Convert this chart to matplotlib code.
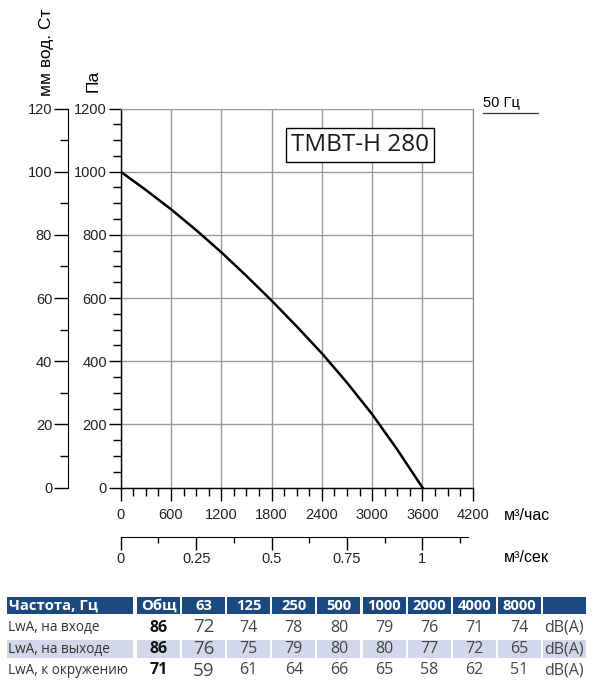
import numpy as np
import matplotlib
matplotlib.use("Agg")
import matplotlib.pyplot as plt
from matplotlib.ticker import MultipleLocator
from matplotlib.patches import Rectangle

# Fan curve
flow_m3h = [0, 300, 600, 900, 1200, 1500, 1800, 2100, 2400, 2700, 3000, 3300, 3600]
pressure_pa = [1000, 942, 881, 815, 745, 670, 592, 510, 425, 332, 232, 120, 0]

model_name = "TMBT-H 280"
freq_label = "50 Гц"

# Sound power table
table_header = ["Частота, Гц", "Общ", "63", "125", "250", "500",
                "1000", "2000", "4000", "8000", ""]
row_labels = ["LwA, на входе", "LwA, на выходе", "LwA, к окружению"]
total_lwa = [86, 86, 71]
lwa_inlet = [72, 74, 78, 80, 79, 76, 71, 74]
lwa_outlet = [76, 75, 79, 80, 80, 77, 72, 65]
lwa_surround = [59, 61, 64, 66, 65, 58, 62, 51]
unit = "dB(A)"

W, H = 593, 688
AX_FONT = "Liberation Sans"
TB_FONT = "Open Sans"
GRID_C = "#9a9a9a"
HEAD_C = "#1b4a80"
BAND_C = "#d2d7ea"
TICK_FS = 10.5


def fx(x):
    return x / W


def fy(y):
    return 1 - y / H


def style_labels(labels):
    for lab in labels:
        lab.set_fontfamily(AX_FONT)
        lab.set_fontsize(TICK_FS)
        lab.set_color("#222222")


fig = plt.figure(figsize=(W / 100, H / 100), dpi=100)

# main Pa / m3/h axes
ax_l, ax_r, ax_t, ax_b = 120.7, 472.7, 108.5, 487.5
ax = fig.add_axes([fx(ax_l), fy(ax_b), (ax_r - ax_l) / W, (ax_b - ax_t) / H])
ax.plot(flow_m3h, pressure_pa, color="black", lw=1.8, zorder=3,
        solid_joinstyle="round")
ax.set_xlim(0, 4200)
ax.set_ylim(0, 1200)
ax.xaxis.set_major_locator(MultipleLocator(600))
ax.xaxis.set_minor_locator(MultipleLocator(150))
ax.yaxis.set_major_locator(MultipleLocator(200))
ax.yaxis.set_minor_locator(MultipleLocator(50))
ax.grid(True, which="major", color=GRID_C, lw=1)
ax.spines["top"].set_color(GRID_C)
ax.spines["right"].set_color("#888888")
for s in ["left", "bottom"]:
    ax.spines[s].set_linewidth(1)
ax.tick_params(which="major", length=9, width=1, direction="out")
ax.tick_params(which="minor", length=5.5, width=1, direction="out")
ax.tick_params(axis="x", which="major", pad=6)
ax.tick_params(axis="y", which="major", pad=1)
style_labels(ax.get_xticklabels() + ax.get_yticklabels())

# model name box
ax.text(0.68, 0.904, model_name, transform=ax.transAxes, ha="center", va="center",
        fontsize=17.5, family=TB_FONT, color="#1a1a1a",
        bbox=dict(boxstyle="square,pad=0.2", fc="white", ec="black", lw=1))

# outer mm water column axis
ax_mm = fig.add_axes([fx(67.5), fy(ax_b), 0.0001, (ax_b - ax_t) / H])
ax_mm.set_ylim(0, 120)
ax_mm.yaxis.set_major_locator(MultipleLocator(20))
ax_mm.yaxis.set_minor_locator(MultipleLocator(10))
ax_mm.set_xticks([])
for s in ["top", "right", "bottom"]:
    ax_mm.spines[s].set_visible(False)
ax_mm.patch.set_visible(False)
ax_mm.tick_params(which="major", length=10, width=1, pad=1)
ax_mm.tick_params(which="minor", length=6, width=1)
style_labels(ax_mm.get_yticklabels())

# m3/s axis
ax_s = fig.add_axes([fx(ax_l), fy(537.3), (ax_r - ax_l) / W, 0.0001])
ax_s.set_xlim(0, 4200 / 3600)
ax_s.set_yticks([])
for s in ["top", "right", "left"]:
    ax_s.spines[s].set_visible(False)
ax_s.spines["bottom"].set_bounds(0, 1.15)
ax_s.patch.set_visible(False)
ax_s.set_xticks([0, 0.25, 0.5, 0.75, 1])
ax_s.set_xticklabels(["0", "0.25", "0.5", "0.75", "1"])
ax_s.xaxis.set_minor_locator(MultipleLocator(0.125))
ax_s.tick_params(which="major", length=9, width=1, pad=1.5)
ax_s.tick_params(which="minor", length=4.5, width=1)
style_labels(ax_s.get_xticklabels())

# axis labels
fig.text(fx(93), fy(81), "Па", rotation=90, ha="center", va="center",
         family=AX_FONT, fontsize=12.5)
fig.text(fx(47), fy(52), "мм вод. Ст", rotation=90, ha="center", va="center",
         family=AX_FONT, fontsize=12.5)
fig.text(fx(504), fy(515), "м³/час", ha="left", va="center", family=AX_FONT, fontsize=11.5)
fig.text(fx(504), fy(557), "м³/сек", ha="left", va="center", family=AX_FONT, fontsize=11.5)
fig.text(fx(483), fy(103), freq_label, ha="left", va="center", family=AX_FONT, fontsize=10.5)

# overlay axes in pixel units for the table and the 50 Hz underline
ov = fig.add_axes([0, 0, 1, 1])
ov.set_xlim(0, W)
ov.set_ylim(H, 0)
ov.axis("off")
ov.patch.set_visible(False)
ov.plot([482.5, 538], [113.3, 113.3], color="#333333", lw=0.9)

col_left = [7] + [137 + 45.1 * i for i in range(10)]
col_w = [126] + [43] * 10
head_top, head_h = 597, 17
row_y = [627.5, 649, 670.5]
band_h = 18

for i, name in enumerate(table_header):
    ov.add_patch(Rectangle((col_left[i], head_top), col_w[i], head_h,
                           fc=HEAD_C, ec="none"))
    if i == 0:
        ov.text(col_left[i] + 2, head_top + head_h / 2 + 0.5, name, ha="left",
                va="center", color="white", family=TB_FONT, weight="bold", fontsize=10.7)
    else:
        ov.text(col_left[i] + col_w[i] / 2, head_top + head_h / 2 + 0.5, name,
                ha="center", va="center", color="white", family=TB_FONT,
                weight="bold", fontsize=10.7)

bands = [lwa_inlet, lwa_outlet, lwa_surround]
for r, lbl in enumerate(row_labels):
    y = row_y[r]
    if r == 1:
        for i in range(len(table_header)):
            ov.add_patch(Rectangle((col_left[i], y - band_h / 2), col_w[i], band_h,
                                   fc=BAND_C, ec="none"))
    ov.text(col_left[0] + 1, y, lbl, ha="left", va="center", color="#333333",
            family=TB_FONT, fontsize=9.8)
    ov.text(col_left[1] + col_w[1] / 2, y, str(total_lwa[r]), ha="center", va="center",
            color="#111111", family=TB_FONT, weight="bold", fontsize=11.5)
    for j, v in enumerate(bands[r]):
        c = j + 2
        ov.text(col_left[c] + col_w[c] / 2, y, str(v), ha="center", va="center",
                color="#444444", family=TB_FONT, fontsize=13.5 if j == 0 else 11.5)
    ov.text(col_left[10] + col_w[10] / 2, y, unit, ha="center", va="center",
            color="#444444", family=TB_FONT, fontsize=11.5)

fig.savefig("out.png", dpi=100)
